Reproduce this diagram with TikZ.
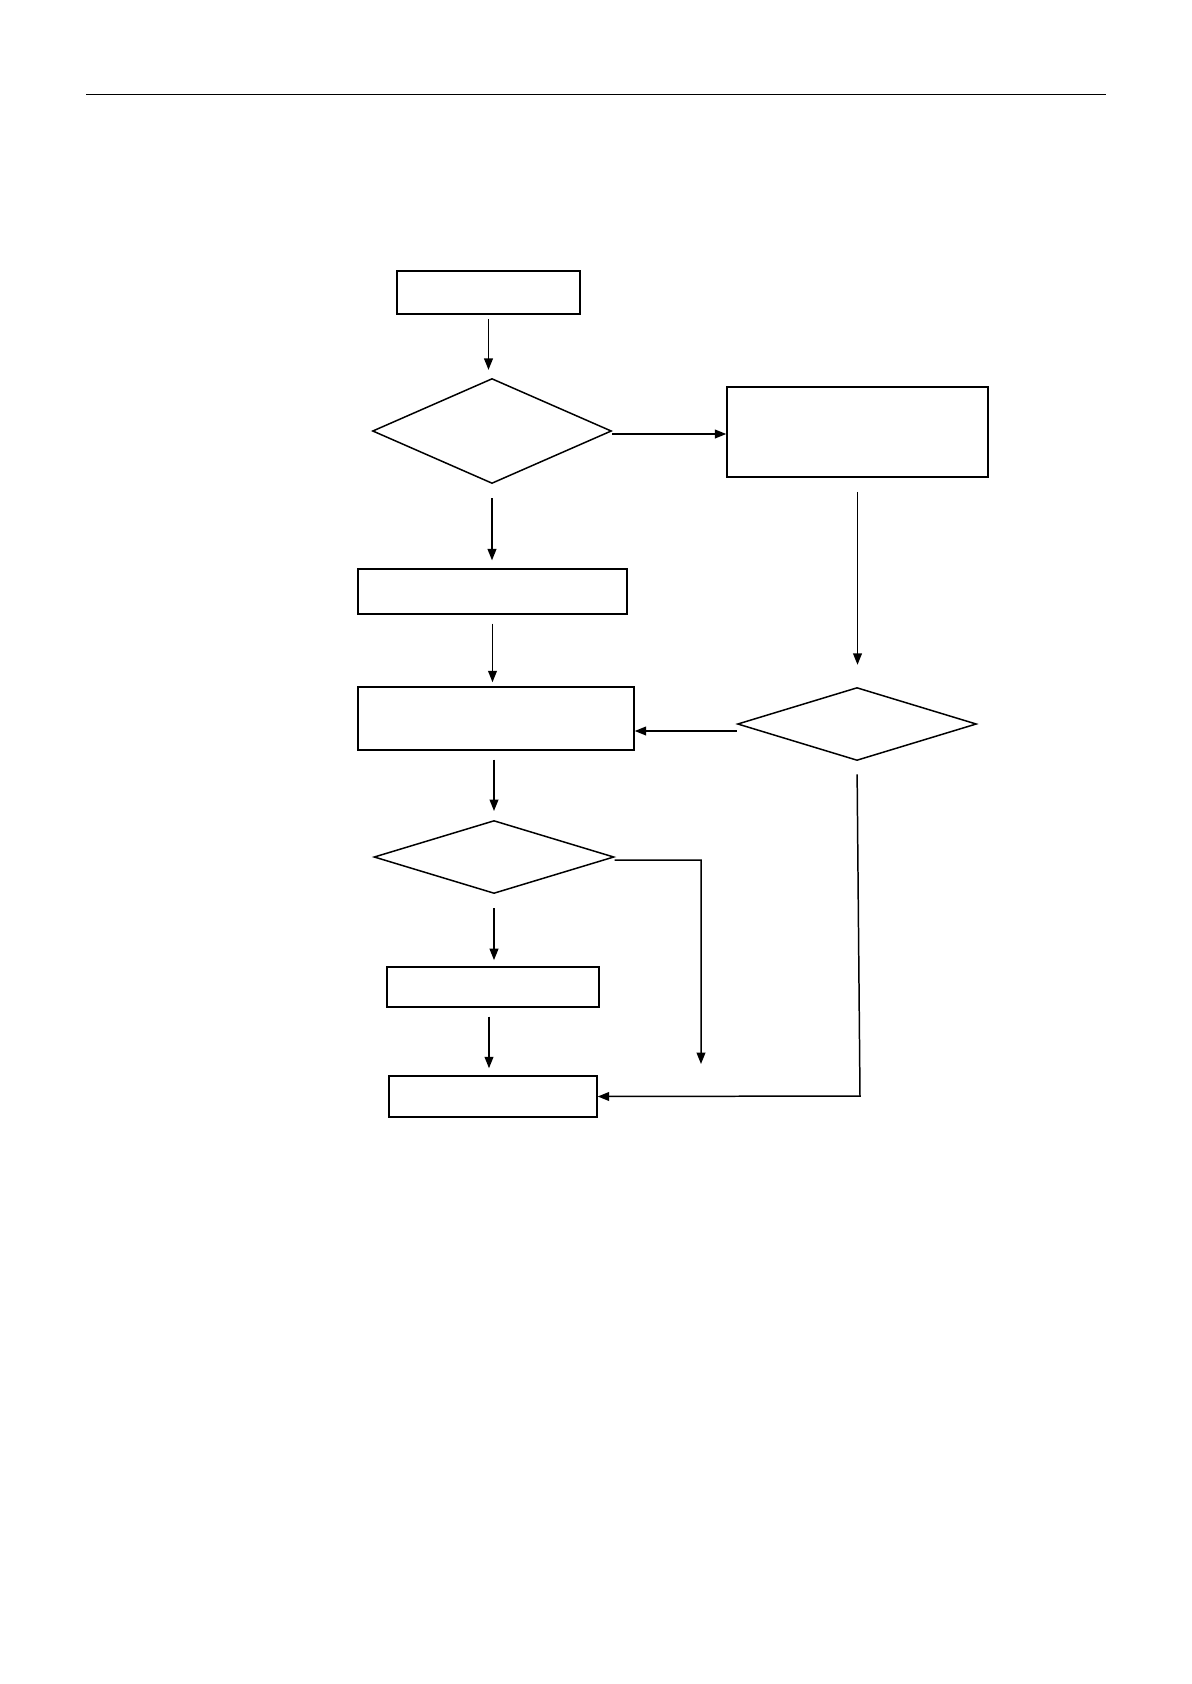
\documentclass[tikz,border=0pt]{standalone}
\usepackage{tikz}
\usetikzlibrary{shapes.geometric,arrows.meta,positioning,calc}

\begin{document}
\begin{tikzpicture}[
    x=0.02cm, y=-0.02cm,
    block/.style={rectangle, draw, line width=0.85pt, inner sep=0pt},
    decision/.style={diamond, draw, line width=0.85pt, inner sep=0pt},
    arrow/.style={->, line width=0.85pt, >={Triangle[length=6.5pt,width=5pt]}}
]
\useasboundingbox (0,0) rectangle (1191,1684);
\coordinate (ruleL) at (86,94.5);
\coordinate (ruleR) at (1106,94.5);
\draw[line width=0.85pt] (ruleL) -- (ruleR);

\node[block, minimum width=3.66cm, minimum height=0.86cm] (start) at (488.5,292.5) {};
\node[decision, minimum width=4.78cm, minimum height=2.1cm] (check) at (492,431) {};
\node[block, minimum width=5.22cm, minimum height=1.8cm] (side) at (857.5,432) {};
\node[block, minimum width=5.38cm, minimum height=0.9cm] (prep) at (492.5,591.5) {};
\node[block, minimum width=5.52cm, minimum height=1.26cm] (proc) at (496,718.5) {};
\node[decision, minimum width=4.78cm, minimum height=1.46cm] (sidecheck) at (857,724) {};
\node[decision, minimum width=4.8cm, minimum height=1.46cm] (test) at (494,857) {};
\node[block, minimum width=4.24cm, minimum height=0.8cm] (result) at (493,987) {};
\node[block, minimum width=4.16cm, minimum height=0.82cm] (finish) at (493,1096.5) {};

\coordinate (testturn) at (701,860);
\coordinate (testend) at (701,1064);
\coordinate (sideturn) at (860,1096);

\draw[arrow, shorten <=2.3pt, shorten >=4.5pt] (start.south) -- (start.south |- check.north);
\draw[arrow] ([yshift=-0.06cm]check.east) -- ([yshift=-0.06cm]check.east -| side.west);
\draw[arrow, shorten <=8pt, shorten >=12.5pt] (side.south) -- (side.south |- sidecheck.north);
\draw[arrow, shorten <=8pt, shorten >=4.5pt] (check.south) -- (check.south |- prep.north);
\draw[arrow, shorten <=5pt, shorten >=2.3pt] (prep.south) -- (prep.south |- proc.north);
\draw[arrow] ([yshift=-0.14cm]sidecheck.west) -- ([yshift=-0.14cm]sidecheck.west -| proc.east);
\draw[arrow, shorten <=5pt, shorten >=5pt] (test.north |- proc.south) -- (test.north);
\draw[arrow] ([yshift=-0.06cm]test.east) -- (testturn) -- (testend);
\draw[arrow, shorten <=8pt, shorten >=3.5pt] (test.south) -- (test.south |- result.north);
\draw[arrow, shorten <=5pt, shorten >=4pt] ([xshift=-0.08cm]result.south) -- ([xshift=-0.08cm]result.south |- finish.north);
\draw[arrow, shorten <=7.5pt] (sidecheck.south) -- (sideturn) -- (finish.east);
\end{tikzpicture}
\end{document}
